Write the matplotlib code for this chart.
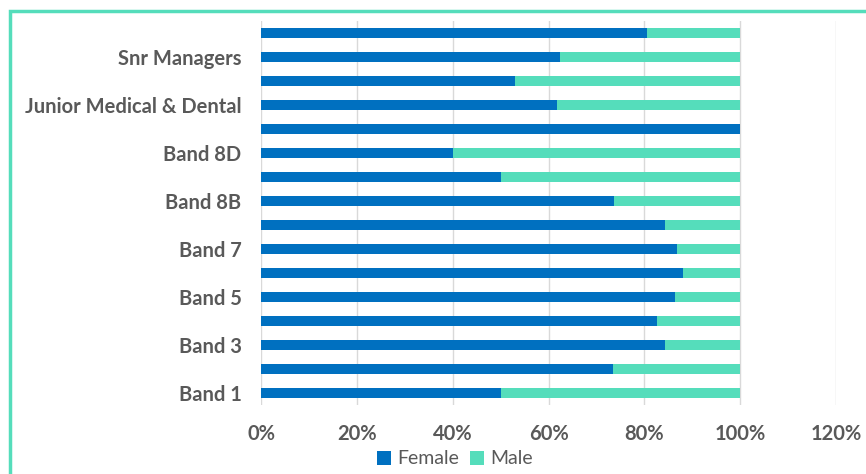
import matplotlib.pyplot as plt
from matplotlib.patches import Rectangle
from matplotlib.ticker import PercentFormatter
import numpy as np

plt.rcParams['font.family'] = ['Lato', 'DejaVu Sans']

# Staff groups, bottom to top
groups = ['Band 1', 'Band 2', 'Band 3', 'Band 4', 'Band 5', 'Band 6',
          'Band 7', 'Band 8A', 'Band 8B', 'Band 8C', 'Band 8D', 'Band 9',
          'Junior Medical & Dental', 'Senior Medical & Dental',
          'Snr Managers', 'Very Senior Managers']

# Share of female staff in each group (%)
female = [50.0, 73.4, 84.4, 82.6, 86.4, 88.0, 86.9, 84.4,
          73.6, 50.0, 40.0, 100.0, 61.8, 53.1, 62.5, 80.6]
male = [100 - f for f in female]

female_color = '#0070C0'
male_color = '#55DDBB'
text_color = '#595959'

fig = plt.figure(figsize=(8.66, 4.74), dpi=100)
ax = fig.add_axes([261 / 866, 1 - 405 / 474, 575 / 866, 384 / 474])

y = np.arange(len(groups))
ax.barh(y, female, height=0.4, color=female_color, label='Female', zorder=3)
ax.barh(y, male, left=female, height=0.4, color=male_color, label='Male', zorder=3)

ax.set_xlim(0, 120)
ax.set_ylim(-0.5, len(groups) - 0.5)
ax.set_xticks(np.arange(0, 121, 20))
ax.xaxis.set_major_formatter(PercentFormatter(decimals=0))
ax.set_yticks(y)
ax.set_yticklabels(groups)
# only every other category gets a label, as the axis is too crowded
for i, lbl in enumerate(ax.get_yticklabels()):
    lbl.set_visible(i % 2 == 0)

ax.grid(axis='x', color='#D9D9D9', linewidth=1, zorder=0)
for side in ['top', 'right', 'bottom', 'left']:
    ax.spines[side].set_visible(False)
ax.tick_params(axis='both', length=0, labelsize=14.5, labelcolor=text_color)
ax.tick_params(axis='y', pad=14)
ax.tick_params(axis='x', pad=14)
for lbl in ax.get_xticklabels() + ax.get_yticklabels():
    lbl.set_fontweight('bold')

fig.legend(loc='center', bbox_to_anchor=(455 / 866, 1 - 459 / 474), ncol=2,
           frameon=False, handlelength=0.7, handleheight=0.7,
           handletextpad=0.3, columnspacing=0.6,
           prop={'size': 14}, labelcolor=text_color)

# teal frame around the chart
fig.patches.append(Rectangle((10 / 866, -0.1), 1.2, 1 - 11 / 474 + 0.1,
                             transform=fig.transFigure, fill=False,
                             edgecolor=male_color, linewidth=2.5))

fig.savefig('out.png', dpi=100)
